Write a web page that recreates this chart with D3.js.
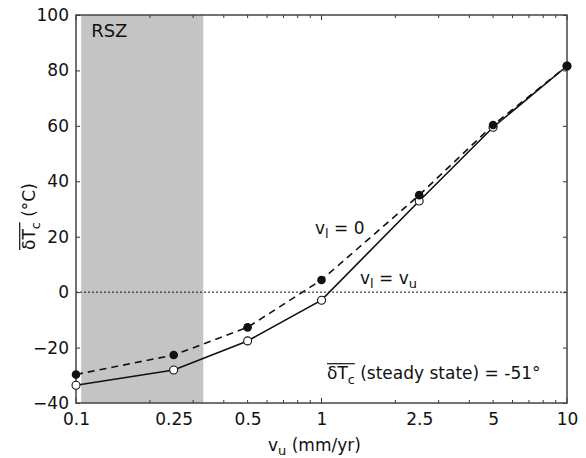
<!DOCTYPE html>
<html>
<head>
<meta charset="utf-8">
<script src="https://cdn.jsdelivr.net/npm/d3@7"></script>
<style>
  body { margin: 0; background: #fff; }
  svg text { font-family: 'DejaVu Sans', sans-serif; fill: #111; }
</style>
</head>
<body>
<div id="chart"></div>
<script>
// data
var vu = [0.1, 0.25, 0.5, 1, 2.5, 5, 10];
var tcZeroVl = [-29.7, -22.7, -12.7, 4.4, 35.0, 60.3, 81.6];   // v_l = 0, filled dots, dashed
var tcEqualVu = [-33.6, -28.1, -17.6, -2.9, 32.9, 59.5, 81.6]; // v_l = v_u, open dots, solid
var xTickValues = [0.1, 0.25, 0.5, 1, 2.5, 5, 10];
var yTickValues = [-40, -20, 0, 20, 40, 60, 80, 100];
var rszRange = [0.105, 0.33];

var margin = {top: 15, right: 19, bottom: 55, left: 76},
    width = 586 - margin.left - margin.right,
    height = 458 - margin.top - margin.bottom;

var xScale = d3.scaleLog().domain([0.1, 10]).range([0, width]);
var yScale = d3.scaleLinear().domain([-40, 100]).range([height, 0]);

var svg = d3.select('#chart').append('svg')
    .attr('width', 586).attr('height', 458);
var g = svg.append('g')
    .attr('transform', 'translate(' + margin.left + ',' + margin.top + ')');

// RSZ shaded band
g.append('rect')
    .attr('x', xScale(rszRange[0]))
    .attr('y', 0)
    .attr('width', xScale(rszRange[1]) - xScale(rszRange[0]))
    .attr('height', height)
    .attr('fill', '#c4c4c4');

g.append('text')
    .attr('x', xScale(rszRange[0]) + 10)
    .attr('y', 22)
    .style('font-size', '18px')
    .text('RSZ');

// zero line
g.append('line')
    .attr('x1', 0).attr('x2', width)
    .attr('y1', yScale(0)).attr('y2', yScale(0))
    .attr('stroke', '#111')
    .attr('stroke-width', 1)
    .attr('stroke-dasharray', '2,2');

// minor log ticks (top and bottom)
var minor = [];
[0.1, 1].forEach(function(dec) {
  for (var k = 2; k <= 9; k++) minor.push(dec * k);
});
var majorDec = [0.1, 1, 10];

var tickG = g.append('g').attr('class', 'logticks');
minor.forEach(function(v) {
  tickG.append('line').attr('x1', xScale(v)).attr('x2', xScale(v))
    .attr('y1', height).attr('y2', height - 3).attr('stroke', '#333');
  tickG.append('line').attr('x1', xScale(v)).attr('x2', xScale(v))
    .attr('y1', 0).attr('y2', 3).attr('stroke', '#333');
});
majorDec.forEach(function(v) {
  tickG.append('line').attr('x1', xScale(v)).attr('x2', xScale(v))
    .attr('y1', height).attr('y2', height - 5).attr('stroke', '#333');
  tickG.append('line').attr('x1', xScale(v)).attr('x2', xScale(v))
    .attr('y1', 0).attr('y2', 5).attr('stroke', '#333');
});

// x axis labels
var xAxis = d3.axisBottom(xScale).tickValues(xTickValues).tickSize(0).tickPadding(10)
    .tickFormat(function(d) { return String(d); });
g.append('g')
    .attr('class', 'x axis')
    .attr('transform', 'translate(0,' + height + ')')
    .call(xAxis)
    .call(function(a) { a.select('.domain').remove(); })
    .selectAll('text').style('font-size', '17px').attr('fill', '#111');

// y axis left, ticks inward
var yAxis = d3.axisLeft(yScale).tickValues(yTickValues).tickSizeInner(-4).tickSizeOuter(0).tickPadding(7);
g.append('g')
    .attr('class', 'y axis')
    .call(yAxis)
    .call(function(a) {
      a.select('.domain').remove();
      a.selectAll('line').attr('stroke', '#333');
    })
    .selectAll('text').style('font-size', '17px').attr('fill', '#111');

// y axis right, ticks only
g.append('g')
    .attr('transform', 'translate(' + width + ',0)')
    .call(d3.axisRight(yScale).tickValues(yTickValues).tickSizeInner(-4).tickSizeOuter(0).tickFormat(''))
    .call(function(a) {
      a.select('.domain').remove();
      a.selectAll('line').attr('stroke', '#333');
    });

// box
g.append('rect')
    .attr('width', width).attr('height', height)
    .attr('fill', 'none').attr('stroke', '#444').attr('stroke-width', 1.5);

// series
var line = d3.line()
    .x(function(d) { return xScale(d[0]); })
    .y(function(d) { return yScale(d[1]); });

var solidPts = d3.zip(vu, tcEqualVu);
var dashedPts = d3.zip(vu, tcZeroVl);

g.append('path').datum(solidPts)
    .attr('d', line).attr('fill', 'none')
    .attr('stroke', '#111').attr('stroke-width', 1.6);
g.append('path').datum(dashedPts)
    .attr('d', line).attr('fill', 'none')
    .attr('stroke', '#111').attr('stroke-width', 1.6)
    .attr('stroke-dasharray', '7,5');

g.selectAll('.open').data(solidPts).enter().append('circle')
    .attr('class', 'open')
    .attr('cx', function(d) { return xScale(d[0]); })
    .attr('cy', function(d) { return yScale(d[1]); })
    .attr('r', 4)
    .attr('fill', '#fff').attr('stroke', '#111').attr('stroke-width', 1.1);
g.selectAll('.filled').data(dashedPts).enter().append('circle')
    .attr('class', 'filled')
    .attr('cx', function(d) { return xScale(d[0]); })
    .attr('cy', function(d) { return yScale(d[1]); })
    .attr('r', 4.3)
    .attr('fill', '#111');

// text with overline over the "δTc" part
function overlined(parent, x, y, size, rest) {
  var t = parent.append('text').attr('x', x).attr('y', y).style('font-size', size + 'px');
  var a = t.append('tspan').text('δT');
  t.append('tspan').attr('dy', size * 0.3).style('font-size', (size * 0.75) + 'px').text('c');
  var r = t.append('tspan').attr('dy', -size * 0.3).text(rest);
  var n = t.node();
  var endBar = n.getSubStringLength(0, 3);
  parent.append('line')
    .attr('x1', x).attr('x2', x + endBar)
    .attr('y1', y - size * 0.9).attr('y2', y - size * 0.9)
    .attr('stroke', '#111').attr('stroke-width', 1.2);
  return t;
}

// y label
var ylab = svg.append('g').attr('transform', 'translate(35,' + 250 + ') rotate(-90)');
overlined(ylab, 0, 0, 17, ' (°C)');

// x label
var xl = svg.append('text').attr('x', 268).attr('y', 451).style('font-size', '17px');
xl.append('tspan').text('v');
xl.append('tspan').attr('dy', 4).style('font-size', '13px').text('u');
xl.append('tspan').attr('dy', -4).text(' (mm/yr)');

// annotations
function subLabel(x, y, parts) {
  var t = g.append('text').attr('x', x).attr('y', y).style('font-size', '17px');
  parts.forEach(function(p) {
    var s = t.append('tspan').text(p.t);
    if (p.sub) s.attr('dy', 4).style('font-size', '13px');
    if (p.up) s.attr('dy', -4);
  });
}
subLabel(315 - margin.left, 234 - margin.top, [{t: 'v'}, {t: 'l', sub: true}, {t: ' = 0', up: true}]);
subLabel(360 - margin.left, 284 - margin.top, [{t: 'v'}, {t: 'l', sub: true}, {t: ' = v', up: true}, {t: 'u', sub: true}]);
overlined(g, 327 - margin.left, 379 - margin.top, 17, ' (steady state) = -51°');
</script>
</body>
</html>
